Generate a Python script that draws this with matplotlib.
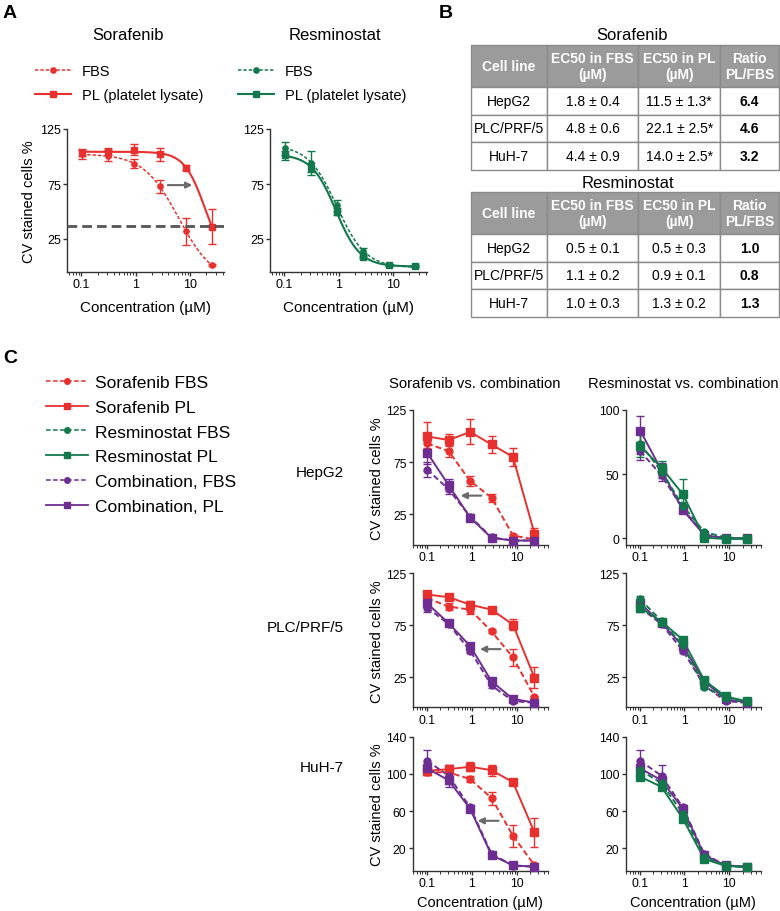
import numpy as np
import matplotlib
matplotlib.use('Agg')
import matplotlib.pyplot as plt
from matplotlib.lines import Line2D
from matplotlib.ticker import LogLocator, NullFormatter

plt.rcParams['font.family'] = ['Liberation Sans', 'DejaVu Sans']

W, H, DPI = 780, 912, 100
fig = plt.figure(figsize=(W / DPI, H / DPI), dpi=DPI)

RED = '#e8302e'
GREEN = '#13784c'
PURPLE = '#6e2d91'
ARROW = '#6a6a6a'

# ---------------- data ----------------
conc = [0.103, 0.309, 0.926, 2.78, 8.33, 25.0]

# Panel A (fitted dose-response)
a_sora_fbs = [102, 100.5, 93.5, 73, 32, 1.2]
a_sora_fbs_err = [4, 5, 4, 6, 12, 1]
a_sora_pl = [103.6, 104.5, 106, 102, 90, 36.3]
a_sora_pl_err = [3, 3, 5, 6, 2, 16]
a_resm_fbs = [107.5, 94.3, 55.9, 14.4, 1.5, 0.6]
a_resm_fbs_err = [6, 11, 5, 2, 1, 1]
a_resm_pl = [101, 89.7, 49.8, 8.9, 1.2, 0.5]
a_resm_pl_err = [4, 4, 3, 1, 1, 1]
a_ref_line = 37

# Panel B tables
tab_cols = ['Cell line', 'EC50 in FBS\n(µM)', 'EC50 in PL\n(µM)', 'Ratio\nPL/FBS']
cell_lines = ['HepG2', 'PLC/PRF/5', 'HuH-7']
sora_ec50_fbs = ['1.8 ± 0.4', '4.8 ± 0.6', '4.4 ± 0.9']
sora_ec50_pl = ['11.5 ± 1.3*', '22.1 ± 2.5*', '14.0 ± 2.5*']
sora_ratio = ['6.4', '4.6', '3.2']
resm_ec50_fbs = ['0.5 ± 0.1', '1.1 ± 0.2', '1.0 ± 0.3']
resm_ec50_pl = ['0.5 ± 0.3', '0.9 ± 0.1', '1.3 ± 0.2']
resm_ratio = ['1.0', '0.8', '1.3']

# Panel C – HepG2
hep_sora_fbs = [93, 85.6, 57, 41, 4.8, 1]
hep_sora_fbs_err = [4, 6, 5, 4, 1, 1]
hep_sora_pl = [99.7, 96.2, 104, 92, 80, 6.7]
hep_sora_pl_err = [14, 6, 12, 8, 9, 5]
hep_resm_fbs = [73.7, 52, 25.2, 5, 0.5, 0]
hep_resm_fbs_err = [8, 5, 3, 1, 0.5, 0.5]
hep_resm_pl = [72, 55, 34.3, 0.5, -0.5, -0.5]
hep_resm_pl_err = [9, 5, 12, 1, 0.5, 0.5]
hep_comb_fbs = [68, 49, 23, 3, 0, 0]
hep_comb_fbs_err = [7, 4, 2, 1, 0.5, 0.5]
hep_comb_pl = [84, 53, 22, 2.5, 0, 0]
hep_comb_pl_err = [11, 6, 2, 1, 0.5, 0.5]

# Panel C – PLC/PRF/5
plc_sora_fbs = [101, 93, 90, 69, 44, 6]
plc_sora_fbs_err = [3, 3, 4, 1, 8, 1]
plc_sora_pl = [104.6, 102, 94.8, 90, 75.6, 24.4]
plc_sora_pl_err = [3, 3, 4, 3, 5.5, 10]
plc_resm_fbs = [100, 79, 55.5, 16, 5, 1]
plc_resm_fbs_err = [3, 2, 2, 2, 1, 0.5]
plc_resm_pl = [92, 78.5, 61, 22, 6.5, 1.7]
plc_resm_pl_err = [3, 2, 3, 2, 1, 1]
plc_comb_fbs = [92, 76, 50.5, 17, 2, 0.3]
plc_comb_fbs_err = [4, 2, 2, 2, 1, 0.5]
plc_comb_pl = [96, 77, 55, 21, 4, 0.5]
plc_comb_pl_err = [3, 2, 2, 2, 1, 1]

# Panel C – HuH-7
huh_sora_fbs = [102, 101.6, 94.4, 74, 33.3, 1.8]
huh_sora_fbs_err = [3, 4, 3, 7, 11.5, 2]
huh_sora_pl = [103.4, 105, 107.7, 104, 91, 37]
huh_sora_pl_err = [5, 5, 5, 6, 2, 16]
huh_resm_fbs = [104, 90, 57, 10.7, 1, 0]
huh_resm_fbs_err = [4, 5, 3, 2, 1, 0.5]
huh_resm_pl = [97, 86, 51.7, 8.4, 1, -0.5]
huh_resm_pl_err = [3, 3, 3, 2, 1, 0.5]
huh_comb_fbs = [114, 98, 64, 14, 1.3, 0]
huh_comb_fbs_err = [12, 12, 3, 2, 1, 0.5]
huh_comb_pl = [106, 93, 62.5, 12.5, 1.5, 0.3]
huh_comb_pl_err = [4, 4, 4, 2, 1, 0.5]

# arrows (shift of EC50), positions in data units
a_arrow = (3.9, 11.0, 74)
c_arrows = [(1.64, 0.57, 43), (4.4, 1.53, 52), (4.0, 1.36, 49.5)]


# ---------------- helpers ----------------
def rect(l, t, r, b):
    return [l / W, 1 - b / H, (r - l) / W, (b - t) / H]


def style_ax(ax, xlim, ylim, yticks, lsize=9):
    ax.set_xscale('log')
    ax.set_xlim(*xlim)
    ax.set_ylim(*ylim)
    ax.set_yticks(yticks)
    ax.set_xticks([0.1, 1, 10])
    ax.set_xticklabels(['0.1', '1', '10'])
    ax.xaxis.set_minor_locator(LogLocator(base=10, subs=np.arange(2, 10) * 1.0, numticks=20))
    ax.xaxis.set_minor_formatter(NullFormatter())
    for s in ['top', 'right']:
        ax.spines[s].set_visible(False)
    for s in ['left', 'bottom']:
        ax.spines[s].set_color('#333333')
        ax.spines[s].set_linewidth(1)
    ax.tick_params(which='major', length=3, width=1, color='#333333', pad=1.5, labelsize=lsize)
    ax.tick_params(which='minor', length=2, width=0.7, color='#333333')
    ax.patch.set_alpha(0)


def fit_curve(x, y, bottoms):
    """Least-squares 4-parameter logistic fit by grid search (top solved in closed form)."""
    lx = np.log10(np.asarray(x))
    y = np.asarray(y, dtype=float)
    logec = np.linspace(-1.5, 2.0, 351)[:, None, None, None]
    hill = np.linspace(0.5, 4.0, 71)[None, :, None, None]
    b = np.asarray(bottoms, dtype=float)[None, None, :, None]
    s = 1.0 / (1.0 + 10 ** ((lx[None, None, None, :] - logec) * hill))
    amp = (s * (y - b)).sum(-1) / (s * s).sum(-1)
    res = ((b + amp[..., None] * s - y) ** 2).sum(-1)
    i, j, k = np.unravel_index(res.argmin(), res.shape)
    a_, le, h, bb = amp[i, j, k], logec[i, 0, 0, 0], hill[0, j, 0, 0], b[0, 0, k, 0]
    xs = np.logspace(np.log10(x[0]), np.log10(x[-1]), 300)
    return xs, bb + a_ / (1 + 10 ** ((np.log10(xs) - le) * h))


def points(ax, y, e, color, marker, ms):
    ax.errorbar(conc, y, yerr=e, fmt=marker, ms=ms, color=color, ecolor=color,
                elinewidth=1, capsize=3, capthick=1, linestyle='none', clip_on=False, zorder=3)


DOT = (0, (2.2, 1.3))
DASH = (0, (3, 1.6))

# ---------------- Panel A ----------------
fig.text(3 / W, 1 - 14 / H, 'A', fontsize=14, fontweight='bold', va='center', ha='left')
fig.text(439 / W, 1 - 14 / H, 'B', fontsize=14, fontweight='bold', va='center', ha='left')
fig.text(3 / W, 1 - 359 / H, 'C', fontsize=14, fontweight='bold', va='center', ha='left')

axA1 = fig.add_axes(rect(67, 130, 224, 273))
axA2 = fig.add_axes(rect(270, 130, 427, 273))
for ax in (axA1, axA2):
    style_ax(ax, (0.055, 42), (-5, 125), [25, 75, 125], lsize=9)
    ax.set_xlabel('Concentration (µM)', fontsize=11, labelpad=7)
axA1.set_ylabel('CV stained cells %', fontsize=10.5, labelpad=3)

free_bottom = np.linspace(-15, 5, 21)
zero_bottom = [0.0]
for ax, yf, ef, yp, ep, col in [
        (axA1, a_sora_fbs, a_sora_fbs_err, a_sora_pl, a_sora_pl_err, RED),
        (axA2, a_resm_fbs, a_resm_fbs_err, a_resm_pl, a_resm_pl_err, GREEN)]:
    xs, ys = fit_curve(conc, yf, free_bottom)
    ax.plot(xs, ys, color=col, lw=1.1, ls=DOT)
    xs, ys = fit_curve(conc, yp, zero_bottom)
    ax.plot(xs, ys, color=col, lw=1.5)
    points(ax, yf, ef, col, 'o', 3.8)
    points(ax, yp, ep, col, 's', 4.3)

axA1.axhline(a_ref_line, color='#555555', lw=2, ls=(0, (3.5, 1.8)), zorder=4)
axA1.annotate('', xy=(a_arrow[1], a_arrow[2]), xytext=(a_arrow[0], a_arrow[2]),
              arrowprops=dict(arrowstyle='-|>', color=ARROW, lw=1.5, mutation_scale=9,
                              shrinkA=0, shrinkB=0))

fig.text(128 / W, 1 - 35 / H, 'Sorafenib', fontsize=12, ha='center', va='center')
fig.text(335 / W, 1 - 35 / H, 'Resminostat', fontsize=12, ha='center', va='center')

for col, x0 in [(RED, 35), (GREEN, 238)]:
    hs = [Line2D([], [], color=col, ls=DOT, lw=1.1, marker='o', ms=3.8),
          Line2D([], [], color=col, ls='-', lw=1.5, marker='s', ms=4.3)]
    fig.legend(hs, ['FBS', 'PL (platelet lysate)'], loc='upper left',
               bbox_to_anchor=(x0 / W, 1 - 65 / H), frameon=False, fontsize=10.5,
               handlelength=2.5, handletextpad=0.7, labelspacing=0.7,
               borderpad=0, borderaxespad=0)

# ---------------- Panel B ----------------
col_w = [75.7, 91.6, 81.7, 59]


def draw_table(l, t, r, b, fbs, pl, ratio):
    ax = fig.add_axes(rect(l, t, r, b))
    ax.axis('off')
    rows = [[c, f, p, q] for c, f, p, q in zip(cell_lines, fbs, pl, ratio)]
    tbl = ax.table(cellText=rows, colLabels=tab_cols, colWidths=col_w,
                   cellLoc='center', bbox=[0, 0, 1, 1])
    tbl.auto_set_font_size(False)
    for (r_, c_), cell in tbl.get_celld().items():
        cell.set_edgecolor('#8a8a8a')
        cell.set_linewidth(1)
        txt = cell.get_text()
        txt.set_fontsize(10)
        if r_ == 0:
            cell.set_height(42)
            cell.set_facecolor('#9b9b9b')
            txt.set_color('white')
            txt.set_fontweight('bold')
            txt.set_fontsize(10)
            txt.set_linespacing(1.2)
        else:
            cell.set_height(27.7)
            cell.set_facecolor('white')
            if c_ == 3:
                txt.set_fontweight('bold')


fig.text(632 / W, 1 - 35 / H, 'Sorafenib', fontsize=12, ha='center', va='center')
draw_table(471, 46, 779, 171, sora_ec50_fbs, sora_ec50_pl, sora_ratio)
fig.text(628 / W, 1 - 183 / H, 'Resminostat', fontsize=12, ha='center', va='center')
draw_table(471, 193, 779, 318, resm_ec50_fbs, resm_ec50_pl, resm_ratio)

# ---------------- Panel C ----------------
c_rows = [
    ('HepG2', 473, 411, 545.7, (-4, 125), [25, 75, 125], (-5, 100), [0, 50, 100],
     hep_sora_fbs, hep_sora_fbs_err, hep_sora_pl, hep_sora_pl_err,
     hep_resm_fbs, hep_resm_fbs_err, hep_resm_pl, hep_resm_pl_err,
     hep_comb_fbs, hep_comb_fbs_err, hep_comb_pl, hep_comb_pl_err),
    ('PLC/PRF/5', 628, 574.3, 708.3, (-4, 125), [25, 75, 125], (-4, 125), [25, 75, 125],
     plc_sora_fbs, plc_sora_fbs_err, plc_sora_pl, plc_sora_pl_err,
     plc_resm_fbs, plc_resm_fbs_err, plc_resm_pl, plc_resm_pl_err,
     plc_comb_fbs, plc_comb_fbs_err, plc_comb_pl, plc_comb_pl_err),
    ('HuH-7', 768, 737.7, 872, (-4.5, 140), [20, 60, 100, 140], (-4.5, 140), [20, 60, 100, 140],
     huh_sora_fbs, huh_sora_fbs_err, huh_sora_pl, huh_sora_pl_err,
     huh_resm_fbs, huh_resm_fbs_err, huh_resm_pl, huh_resm_pl_err,
     huh_comb_fbs, huh_comb_fbs_err, huh_comb_pl, huh_comb_pl_err),
]

CMS_C, SMS_C = 5.0, 5.6


def series(ax, y, e, color, marker, ls):
    ax.plot(conc, y, color=color, ls=ls, lw=1.4, zorder=2, clip_on=False)
    points(ax, y, e, color, marker, CMS_C if marker == 'o' else SMS_C)


for k, (name, name_y, top, bot, yl1, yt1, yl2, yt2,
        sf, sfe, sp, spe, rf, rfe, rp, rpe, cf, cfe, cp, cpe) in enumerate(c_rows):
    ax1 = fig.add_axes(rect(412.7, top, 548, bot))
    ax2 = fig.add_axes(rect(625.7, top, 760.5, bot))
    style_ax(ax1, (0.049, 50), yl1, yt1, lsize=8.8)
    style_ax(ax2, (0.049, 50), yl2, yt2, lsize=8.8)
    ax1.set_ylabel('CV stained cells %', fontsize=10.5, labelpad=1.5)
    # sorafenib vs combination
    series(ax1, sf, sfe, RED, 'o', DASH)
    series(ax1, sp, spe, RED, 's', '-')
    series(ax1, cf, cfe, PURPLE, 'o', DASH)
    series(ax1, cp, cpe, PURPLE, 's', '-')
    a0, a1, ay = c_arrows[k]
    ax1.annotate('', xy=(a1, ay), xytext=(a0, ay),
                 arrowprops=dict(arrowstyle='-|>', color=ARROW, lw=1.5, mutation_scale=9,
                                 shrinkA=0, shrinkB=0))
    # resminostat vs combination
    series(ax2, cf, cfe, PURPLE, 'o', DASH)
    series(ax2, cp, cpe, PURPLE, 's', '-')
    series(ax2, rf, rfe, GREEN, 'o', DASH)
    series(ax2, rp, rpe, GREEN, 's', '-')
    if k == 2:
        ax1.set_xlabel('Concentration (µM)', fontsize=10.5, labelpad=4)
        ax2.set_xlabel('Concentration (µM)', fontsize=10.5, labelpad=4)
    fig.text(344 / W, 1 - name_y / H, name, fontsize=11, ha='right', va='center')

fig.text(475 / W, 1 - 384 / H, 'Sorafenib vs. combination', fontsize=10.7, ha='center', va='center')
fig.text(683 / W, 1 - 384 / H, 'Resminostat vs. combination', fontsize=10.7, ha='center', va='center')

leg_h = [Line2D([], [], color=RED, ls=DASH, lw=1.1, marker='o', ms=4),
         Line2D([], [], color=RED, ls='-', lw=1.3, marker='s', ms=4.5),
         Line2D([], [], color=GREEN, ls=DASH, lw=1.1, marker='o', ms=4),
         Line2D([], [], color=GREEN, ls='-', lw=1.3, marker='s', ms=4.5),
         Line2D([], [], color=PURPLE, ls=DASH, lw=1.1, marker='o', ms=4),
         Line2D([], [], color=PURPLE, ls='-', lw=1.3, marker='s', ms=4.5)]
leg_l = ['Sorafenib FBS', 'Sorafenib PL', 'Resminostat FBS', 'Resminostat PL',
         'Combination, FBS', 'Combination, PL']
fig.legend(leg_h, leg_l, loc='upper left', bbox_to_anchor=(46 / W, 1 - 376 / H),
           frameon=False, fontsize=12.5, handlelength=2.4, handletextpad=0.4,
           labelspacing=0.55, borderpad=0, borderaxespad=0)

fig.savefig('out.png', dpi=DPI)
